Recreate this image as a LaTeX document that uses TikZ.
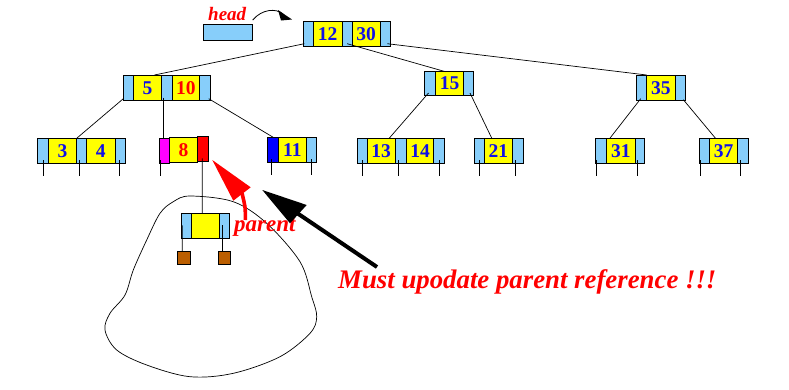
\documentclass[tikz,border=0pt]{standalone}
\usepackage{fontspec}
\setmainfont{Liberation Serif}
\usetikzlibrary{calc}
\definecolor{lblue}{RGB}{135,206,250}
\definecolor{kyellow}{RGB}{255,255,0}
\definecolor{dblue}{RGB}{0,0,255}
\definecolor{kblue}{RGB}{16,16,230}
\definecolor{brownbox}{RGB}{187,94,0}
\definecolor{kred}{RGB}{255,0,0}
\definecolor{kmag}{RGB}{255,0,255}
\tikzset{
  cellbox/.style={draw=black, line width=0.9pt, inner sep=0pt, outer sep=0pt},
  keytxt/.style={font=\fontsize{19.5}{19.5}\selectfont\bfseries, text=kblue},
  redkey/.style={keytxt, text=kred},
  link/.style={line width=0.7pt},
  lbl/.style={font=\fontsize{#1}{#1}\selectfont\bfseries\itshape, text=kred, inner sep=0pt},
}
\newcommand\cellb[8][]{\node[cellbox,fill=#7,minimum width=#4pt-#3pt,minimum height=#6pt-#5pt,#1] (#2) at ({(#3+#4)/2},{(#5+#6)/2}) {#8};}
\newcommand\stub[2]{\draw[link] ($(#1.south)+(#2,-3)$) -- ++(0,16);}
\begin{document}
\begin{tikzpicture}[x=1pt,y=-1pt]
\useasboundingbox (0,0) rectangle (789,389);
% head
\cellb{head}{203.3}{252.7}{24}{40.7}{lblue}{}
\node[lbl=19, anchor=base west] (headlbl) at (208,20) {head};
\coordinate (headtip) at (292,19.5);
\draw[line width=0.8pt] ($(head.north east)+(0,-4)$) .. controls (262,9) and (276,8) .. (283,14);
\fill (headtip) -- (278,10) -- (281,20.5) -- cycle;
% root
\cellb{r0}{303.3}{313.3}{21.7}{46.7}{lblue}{}
\cellb[keytxt]{r1}{313.3}{342}{21.7}{46.7}{kyellow}{12}
\cellb{r2}{342}{352.3}{21.7}{46.7}{lblue}{}
\cellb[keytxt]{r3}{352.3}{380}{21.7}{46.7}{kyellow}{30}
\cellb{r4}{380}{390.7}{21.7}{46.7}{lblue}{}
% level 1
\cellb{a0}{123.3}{133.3}{75}{100.7}{lblue}{}
\cellb[keytxt]{a1}{133.3}{161.7}{75}{100.7}{kyellow}{5}
\cellb{a2}{161.7}{172.3}{75}{100.7}{lblue}{}
\cellb[redkey]{a3}{172.3}{199.3}{75}{100.7}{kyellow}{10}
\cellb{a4}{199.3}{210.7}{75}{100.7}{lblue}{}
\cellb{b0}{424.3}{435.7}{71.7}{95}{lblue}{}
\cellb[keytxt]{b1}{435.7}{463.3}{71.7}{95}{kyellow}{15}
\cellb{b2}{463.3}{473.7}{71.7}{95}{lblue}{}
\cellb{c0}{636.7}{646.7}{75}{100.7}{lblue}{}
\cellb[keytxt]{c1}{646.7}{675}{75}{100.7}{kyellow}{35}
\cellb{c2}{675}{685.7}{75}{100.7}{lblue}{}
% leaves
\cellb{d0}{37.3}{48.3}{138.3}{163.3}{lblue}{}
\cellb[keytxt]{d1}{48.3}{76.7}{138.3}{163.3}{kyellow}{3}
\cellb{d2}{76.7}{86.7}{138.3}{163.3}{lblue}{}
\cellb[keytxt]{d3}{86.7}{115}{138.3}{163.3}{kyellow}{4}
\cellb{d4}{115}{125}{138.3}{163.3}{lblue}{}
\cellb{e0}{159.3}{169.3}{138.3}{163.3}{kmag}{}
\cellb[redkey]{e1}{169.3}{197.7}{137.3}{162.3}{kyellow}{8}
\cellb{e2}{197.7}{208.7}{136}{161.3}{kred}{}
\cellb{f0}{267.7}{278.7}{137.3}{162.3}{dblue}{}
\cellb[keytxt]{f1}{278.7}{306}{137.3}{162.3}{kyellow}{11}
\cellb{f2}{306}{316.3}{137.3}{162.3}{lblue}{}
\cellb{g0}{357.3}{367.3}{138.3}{163.3}{lblue}{}
\cellb[keytxt]{g1}{367.3}{395}{138.3}{163.3}{kyellow}{13}
\cellb{g2}{395}{406.7}{138.3}{163.3}{lblue}{}
\cellb[keytxt]{g3}{406.7}{433.3}{138.3}{163.3}{kyellow}{14}
\cellb{g4}{433.3}{444.7}{138.3}{163.3}{lblue}{}
\cellb{h0}{474.3}{484.3}{138.3}{163.3}{lblue}{}
\cellb[keytxt]{h1}{484.3}{512.3}{138.3}{163.3}{kyellow}{21}
\cellb{h2}{512.3}{523.7}{138.3}{163.3}{lblue}{}
\cellb{i0}{595.3}{606.7}{138.3}{163.3}{lblue}{}
\cellb[keytxt]{i1}{606.7}{635}{138.3}{163.3}{kyellow}{31}
\cellb{i2}{635}{644.3}{138.3}{163.3}{lblue}{}
\cellb{j0}{699.3}{709.3}{138.3}{163.3}{lblue}{}
\cellb[keytxt]{j1}{709.3}{737.7}{138.3}{163.3}{kyellow}{37}
\cellb{j2}{737.7}{748.3}{138.3}{163.3}{lblue}{}
% child subtree node
\cellb{k0}{181}{191.7}{213.3}{238.3}{lblue}{}
\cellb{k1}{191.7}{219.3}{213.3}{238.3}{kyellow}{}
\cellb{k2}{219.3}{229.3}{213.3}{238.3}{lblue}{}
\cellb{kb1}{177.3}{190}{251}{264.3}{brownbox}{}
\cellb{kb2}{218.3}{230.7}{251}{264.3}{brownbox}{}
% links
\draw[link] ($(r0.south west)+(1,-3)$) -- ($(a1.north)+(7,0)$);
\draw[link] ($(r2.south)+(0,-3)$) -- ($(b1.north)+(-4,0)$);
\draw[link] ($(r4.south)+(2,-3)$) -- (c0.north east);
\draw[link] ($(a0.south west)+(0,-2)$) -- (d1.north east);
\draw[link] ($(a2.south)+(-3.7,-3)$) -- ($(e0.north)+(-1,0)$);
\draw[link] ($(a4.south east)+(-2,-2)$) -- ($(f0.north)+(0,0)$);
\draw[link] ($(b0.south)+(-1.5,-2)$) -- ($(g1.north)+(8,0)$);
\draw[link] ($(b2.south)+(1.5,-2)$) -- ($(h1.north)+(-6.5,0)$);
\draw[link] ($(c0.south)+(-1,-2)$) -- ($(i1.north)+(-11,0)$);
\draw[link] ($(c2.south)+(3,-1)$) -- ($(j1.north)+(-8,0)$);
\draw[link] ($(e2.south)+(-1,-3)$) -- ($(e2.south -| k1.north)+(-3.2,0)$) -- ($(k1.north)+(-3.2,0)$);
\draw[link] ($(k0.south)+(-4,-13)$) -- ($(kb1.north)+(-1.4,0)$);
\draw[link] ($(k2.south)+(-2,-13)$) -- ($(kb2.north)+(-2.2,0)$);
% stubs
\stub{d0}{0.5}\stub{d2}{-2.4}\stub{d4}{-0.7}
\stub{e0}{-4.3}\stub{f0}{-2.2}\stub{f2}{-0.2}
\stub{g0}{0}\stub{g2}{-2.5}\stub{g4}{0.3}
\stub{h0}{0}\stub{h2}{-3}
\stub{i0}{-4.7}\stub{i2}{-2.3}
\stub{j0}{-4}\stub{j2}{-2.3}
% blob
\draw[line width=0.7pt] plot[smooth cycle, tension=0.55] coordinates {
 (190,196) (233.3,201.7) (266.7,223.3) (300,261.7) (311.7,296.7)
 (316.7,316.7) (310,333.3) (280,356.7) (233.3,373.3) (190,376.7)
 (146.7,365) (116.7,350) (105,330) (110,313.3) (125,295) (133.3,270)
 (146.7,240) (160,213.3) (173.3,201.7)};
% red arrow
\draw[kred, line width=3.6pt] (245.3,220) .. controls (245.5,208) .. (242,193);
\fill[kred] (212.3,160) -- (250.7,187.3) -- (233.3,200.7) -- cycle;
\node[lbl=23, anchor=base west] (parentlbl) at (234,231.5) {parent};
% black arrow
\draw[line width=4pt] (297,213) -- (377,267);
\fill (262.3,190) -- (306.7,205) -- (290,223.3) -- cycle;
\node[lbl=26.8, anchor=base west] (msg) at (338,288.3) {Must upodate parent reference !!!};
\end{tikzpicture}
\end{document}
